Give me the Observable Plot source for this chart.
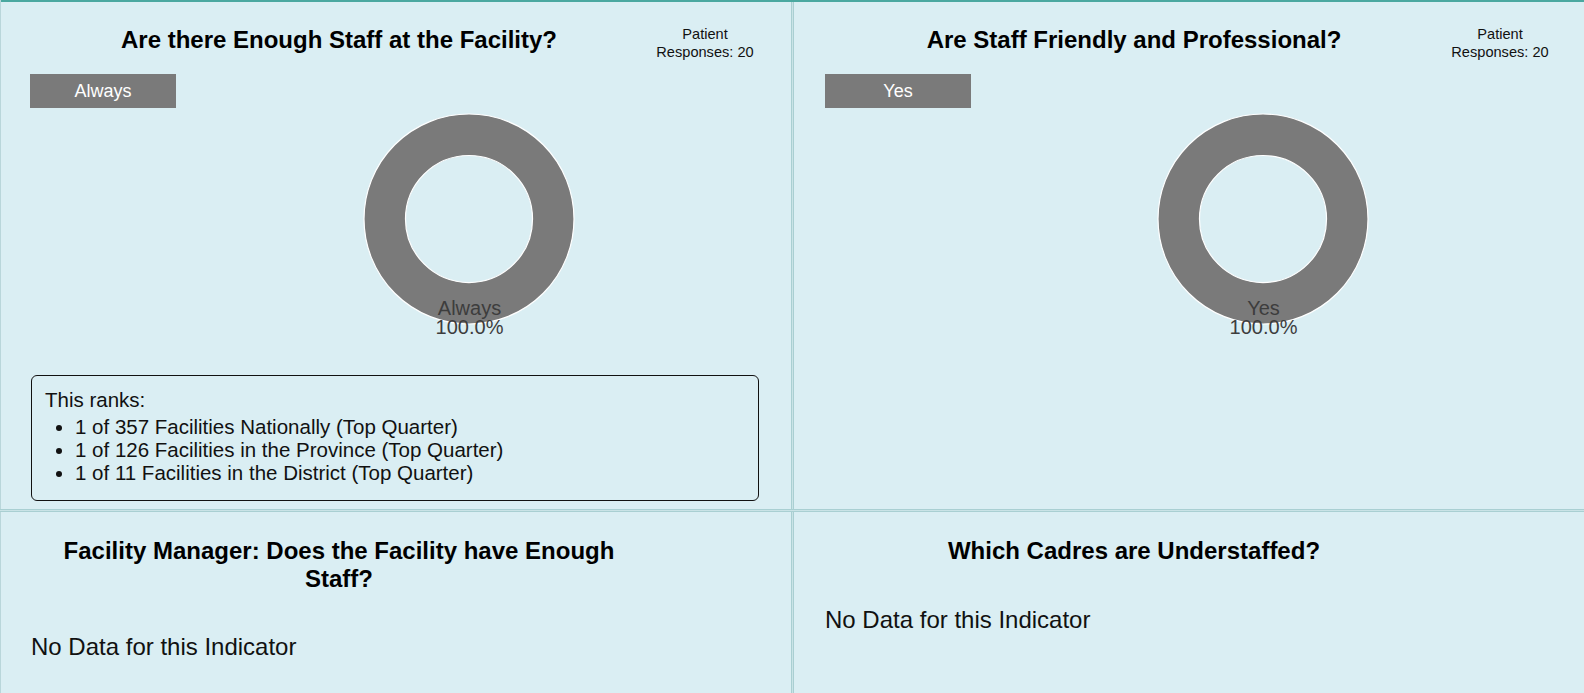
<!DOCTYPE html>
<html>
<head>
<meta charset="utf-8">
<script src="https://cdn.jsdelivr.net/npm/d3@7"></script>
<script src="https://cdn.jsdelivr.net/npm/@observablehq/plot@0.6"></script>
<style>
  html, body { margin: 0; padding: 0; }
  body { width: 1584px; height: 693px; background: #daeef3; position: relative; overflow: hidden;
         font-family: "Liberation Sans", Arial, sans-serif; color: #000; }
  .abs { position: absolute; }
  .title { font-weight: bold; font-size: 24px; text-align: center; line-height: 28px; }
  .resp { font-size: 14.6px; text-align: center; line-height: 17.5px; color: #111; width: 140px; }
  .legend { background: #7a7a7a; color: #fff; font-size: 18px; text-align: center; width: 146px; height: 34px; line-height: 34px; }
  .nodata { font-size: 24px; line-height: 28px; color: #111; }
  .rank { border: 1.5px solid #111; border-radius: 6px; box-sizing: border-box; font-size: 20.5px; color: #111; }
  .rank ul { margin: 0; padding: 0 0 0 43px; }
  .rank li { line-height: 22.9px; }
</style>
</head>
<body>
<div class="abs" style="left:0;top:0;width:1584px;height:2px;background:#4aa8a0"></div>
<div class="abs" style="left:0;top:0;width:1px;height:693px;background:#b9d6da"></div>
<div class="abs" style="left:791px;top:2px;width:1px;height:691px;background:#a9cfd2"></div>
<div class="abs" style="left:792px;top:2px;width:1px;height:691px;background:#c9e3e6"></div>
<div class="abs" style="left:793px;top:2px;width:1px;height:691px;background:#a9cfd2"></div>
<div class="abs" style="left:0;top:509px;width:1584px;height:1px;background:#a9cfd2"></div>
<div class="abs" style="left:0;top:510px;width:1584px;height:1px;background:#c9e3e6"></div>
<div class="abs" style="left:0;top:511px;width:1584px;height:1px;background:#a9cfd2"></div>
<div id="root"></div>
<script>
// ---- data ----
const panelTitles = [
  "Are there Enough Staff at the Facility?",
  "Are Staff Friendly and Professional?",
  "Facility Manager: Does the Facility have Enough Staff?",
  "Which Cadres are Understaffed?"
];
const responseCounts = [20, 20];
const enoughStaffCategories = ["Always"];
const enoughStaffValues = [20];
const friendlyCategories = ["Yes"];
const friendlyValues = [20];
const sliceColors = ["#7a7a7a"];
const rankIntro = "This ranks:";
const rankPositions = [1, 1, 1];
const rankTotals = [357, 126, 11];
const rankScopes = ["Nationally", "in the Province", "in the District"];
const rankQuartiles = ["Top Quarter", "Top Quarter", "Top Quarter"];
const noDataText = "No Data for this Indicator";

function el(html, style, cls) {
  const d = document.createElement("div");
  d.className = "abs " + (cls || "");
  d.setAttribute("style", style);
  d.innerHTML = html;
  document.body.appendChild(d);
  return d;
}

// titles
el(panelTitles[0], "left:39px;width:600px;top:26px;", "title");
el(panelTitles[1], "left:834px;width:600px;top:26px;", "title");
el(panelTitles[2], "left:39px;width:600px;top:537px;", "title");
el(panelTitles[3], "left:834px;width:600px;top:537px;", "title");

// patient responses
el("Patient<br>Responses: " + responseCounts[0], "left:635px;top:26px;", "resp");
el("Patient<br>Responses: " + responseCounts[1], "left:1430px;top:26px;", "resp");

// legends
el(enoughStaffCategories[0], "left:30px;top:74px;", "legend");
el(friendlyCategories[0], "left:825px;top:74px;", "legend");

// no data
el(noDataText, "left:31px;top:633px;", "nodata");
el(noDataText, "left:825px;top:606px;", "nodata");

// rank box
const items = rankPositions.map((p, i) =>
  `<li>${p} of ${rankTotals[i]} Facilities ${rankScopes[i]} (${rankQuartiles[i]})</li>`).join("");
el(`<div style="position:absolute;left:13px;top:12px;line-height:23px">${rankIntro}</div>
    <ul style="position:absolute;left:0;top:40px">${items}</ul>`,
   "left:31px;top:375px;width:728px;height:126px;", "rank");

// donuts
const R = 105, innerRatio = 0.605, labelRadius = 0.943, half = 130;
function donut(categories, values, cx, cy) {
  const total = d3.sum(values);
  const pie = d3.pie().sort(null)(values);
  const rows = pie.map((p, i) => {
    const mid = (p.startAngle + p.endAngle) / 2;
    return {
      cat: categories[i],
      pct: (values[i] / total * 100).toFixed(1) + "%",
      lx: Math.sin(mid) * labelRadius,
      ly: Math.cos(mid) * labelRadius,
      arc: p,
      color: sliceColors[i % sliceColors.length]
    };
  });
  const dom = [-half / R, half / R];
  const ringMark = (index, scales) => {
    const g = d3.create("svg:g");
    const x0 = scales.x(0), y0 = scales.y(0);
    const k = scales.x(1) - scales.x(0);
    const arc = d3.arc().innerRadius(innerRatio * k).outerRadius(k);
    g.selectAll("path").data(rows).join("path")
      .attr("transform", `translate(${x0},${y0})`)
      .attr("d", d => arc(d.arc))
      .attr("fill", d => d.color)
      .attr("stroke", "#ffffff")
      .attr("stroke-width", 1.2);
    return g.node();
  };
  const chart = Plot.plot({
    width: half * 2, height: half * 2,
    margin: 0,
    x: {domain: dom, axis: null},
    y: {domain: dom, axis: null},
    style: {background: "transparent", overflow: "visible"},
    marks: [
      ringMark,
      Plot.text(rows, {x: "lx", y: "ly", text: d => d.cat + "\n" + d.pct,
        fill: "#3d3d3d", fontSize: 20, lineAnchor: "middle", lineHeight: 0.97,
        fontFamily: "Liberation Sans, Arial, sans-serif"})
    ]
  });
  const wrap = document.createElement("div");
  wrap.className = "abs";
  wrap.style.left = (cx - half) + "px";
  wrap.style.top = (cy - half) + "px";
  wrap.appendChild(chart);
  document.body.appendChild(wrap);
}
donut(enoughStaffCategories, enoughStaffValues, 468.7, 218.5);
donut(friendlyCategories, friendlyValues, 1262.7, 218.5);
</script>
</body>
</html>
